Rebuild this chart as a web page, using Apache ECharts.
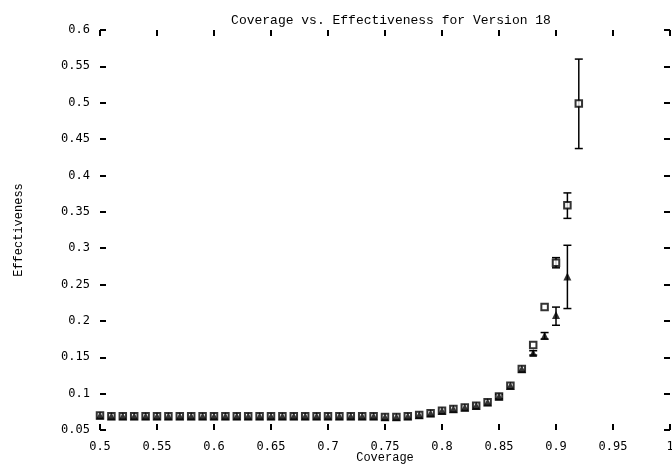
<!DOCTYPE html>
<html>
<head>
<meta charset="utf-8">
<title>Coverage vs. Effectiveness</title>
<script src="https://cdn.jsdelivr.net/npm/echarts@6/dist/echarts.min.js"></script>
<style>
html, body { margin: 0; padding: 0; background: #fff; }
#chart { width: 672px; height: 466px; }
</style>
</head>
<body>
<div id="chart"></div>
<script>
// coverage values (x) for the square series, 0.50 .. 0.92
const coverage = [0.50, 0.51, 0.52, 0.53, 0.54, 0.55, 0.56, 0.57, 0.58, 0.59,
  0.60, 0.61, 0.62, 0.63, 0.64, 0.65, 0.66, 0.67, 0.68, 0.69,
  0.70, 0.71, 0.72, 0.73, 0.74, 0.75, 0.76, 0.77, 0.78, 0.79,
  0.80, 0.81, 0.82, 0.83, 0.84, 0.85, 0.86, 0.87, 0.88, 0.89,
  0.90, 0.91, 0.92]
const squareVals = [0.070, 0.069, 0.069, 0.069, 0.069, 0.069, 0.069, 0.069, 0.069, 0.069,
  0.069, 0.069, 0.069, 0.069, 0.069, 0.069, 0.069, 0.069, 0.069, 0.069,
  0.069, 0.069, 0.069, 0.069, 0.069, 0.068, 0.068, 0.069, 0.0705, 0.073,
  0.0765, 0.079, 0.081, 0.0835, 0.088, 0.096, 0.111, 0.134, 0.167, 0.219,
  0.280, 0.359, 0.499]
// triangle series stops at 0.91
const triangleVals = [0.070, 0.069, 0.069, 0.069, 0.069, 0.069, 0.069, 0.069, 0.069, 0.069,
  0.069, 0.069, 0.069, 0.069, 0.069, 0.069, 0.069, 0.069, 0.069, 0.069,
  0.069, 0.069, 0.069, 0.069, 0.069, 0.068, 0.068, 0.069, 0.0705, 0.073,
  0.0765, 0.079, 0.081, 0.0835, 0.088, 0.096, 0.111, 0.134, 0.156, 0.1795,
  0.208, 0.261]
// error bars: [coverage, low, high]
const squareErr = [[0.90, 0.273, 0.287], [0.91, 0.341, 0.376], [0.92, 0.437, 0.560]]
const triangleErr = [[0.85, 0.093, 0.099], [0.88, 0.153, 0.159], [0.89, 0.175, 0.184],
  [0.90, 0.194, 0.219], [0.91, 0.217, 0.304]]

const xTicks = { min: 0.5, max: 1.0, step: 0.05 }
const yTicks = { min: 0.05, max: 0.6, step: 0.05 }

const squarePts = squareVals.map((v, i) => [coverage[i], v])
const trianglePts = triangleVals.map((v, i) => [coverage[i], v])

function renderErr(params, api) {
  const x = api.value(0)
  const lo = api.coord([x, api.value(1)])
  const hi = api.coord([x, api.value(2)])
  const w = 4
  const style = { stroke: '#000', lineWidth: 1.5 }
  return {
    type: 'group',
    children: [
      { type: 'line', shape: { x1: lo[0], y1: lo[1], x2: hi[0], y2: hi[1] }, style: style },
      { type: 'line', shape: { x1: hi[0] - w, y1: hi[1], x2: hi[0] + w, y2: hi[1] }, style: style },
      { type: 'line', shape: { x1: lo[0] - w, y1: lo[1], x2: lo[0] + w, y2: lo[1] }, style: style }
    ]
  }
}

const tickStyle = {
  axisLine: { show: false },
  axisTick: { show: true, inside: true, length: 6, lineStyle: { color: '#000', width: 2 } },
  splitLine: { show: false }
}
const labelFont = { color: '#000', fontFamily: 'DejaVu Sans Mono', fontSize: 12 }

const option = {
  animation: false,
  backgroundColor: '#fff',
  title: {
    text: 'Coverage vs. Effectiveness for Version 18',
    left: 386,
    top: 9,
    textAlign: 'center',
    textStyle: { color: '#000', fontFamily: 'Liberation Mono', fontSize: 13, fontWeight: 'normal' }
  },
  grid: { left: 100, right: 2, top: 30, bottom: 36, outerBoundsMode: 'none', containLabel: false },
  xAxis: [
    Object.assign({
      type: 'value',
      position: 'bottom',
      min: xTicks.min,
      max: xTicks.max,
      interval: xTicks.step,
      name: 'Coverage',
      nameLocation: 'middle',
      nameGap: 22,
      nameMoveOverlap: false,
      nameTextStyle: { color: '#000', fontFamily: 'Liberation Mono', fontSize: 12 },
      axisLabel: Object.assign({ margin: 11, formatter: v => String(+v.toFixed(2)) }, labelFont)
    }, tickStyle),
    Object.assign({
      type: 'value',
      position: 'top',
      min: xTicks.min,
      max: xTicks.max,
      interval: xTicks.step,
      axisLabel: { show: false }
    }, tickStyle)
  ],
  yAxis: [
    Object.assign({
      type: 'value',
      position: 'left',
      min: yTicks.min,
      max: yTicks.max,
      interval: yTicks.step,
      name: 'Effectiveness',
      nameLocation: 'middle',
      nameGap: 75,
      nameMoveOverlap: false,
      nameTextStyle: { color: '#000', fontFamily: 'Liberation Mono', fontSize: 12 },
      axisLabel: Object.assign({ margin: 10, formatter: v => String(+v.toFixed(2)) }, labelFont)
    }, tickStyle),
    Object.assign({
      type: 'value',
      position: 'right',
      min: yTicks.min,
      max: yTicks.max,
      interval: yTicks.step,
      axisLabel: { show: false }
    }, tickStyle)
  ],
  series: [
    {
      name: 'square err',
      type: 'custom',
      renderItem: renderErr,
      data: squareErr,
      z: 1
    },
    {
      name: 'triangle err',
      type: 'custom',
      renderItem: renderErr,
      data: triangleErr,
      z: 1
    },
    {
      name: 'squares',
      type: 'scatter',
      symbol: 'rect',
      symbolSize: 6.5,
      itemStyle: { color: '#fff', borderColor: '#000', borderWidth: 2 },
      data: squarePts,
      z: 2
    },
    {
      name: 'triangles',
      type: 'scatter',
      symbol: 'triangle',
      symbolSize: 8,
      itemStyle: { color: '#000' },
      data: trianglePts,
      z: 3
    }
  ]
}

const myChart = echarts.init(document.getElementById('chart'))
myChart.setOption(option)
</script>
</body>
</html>
